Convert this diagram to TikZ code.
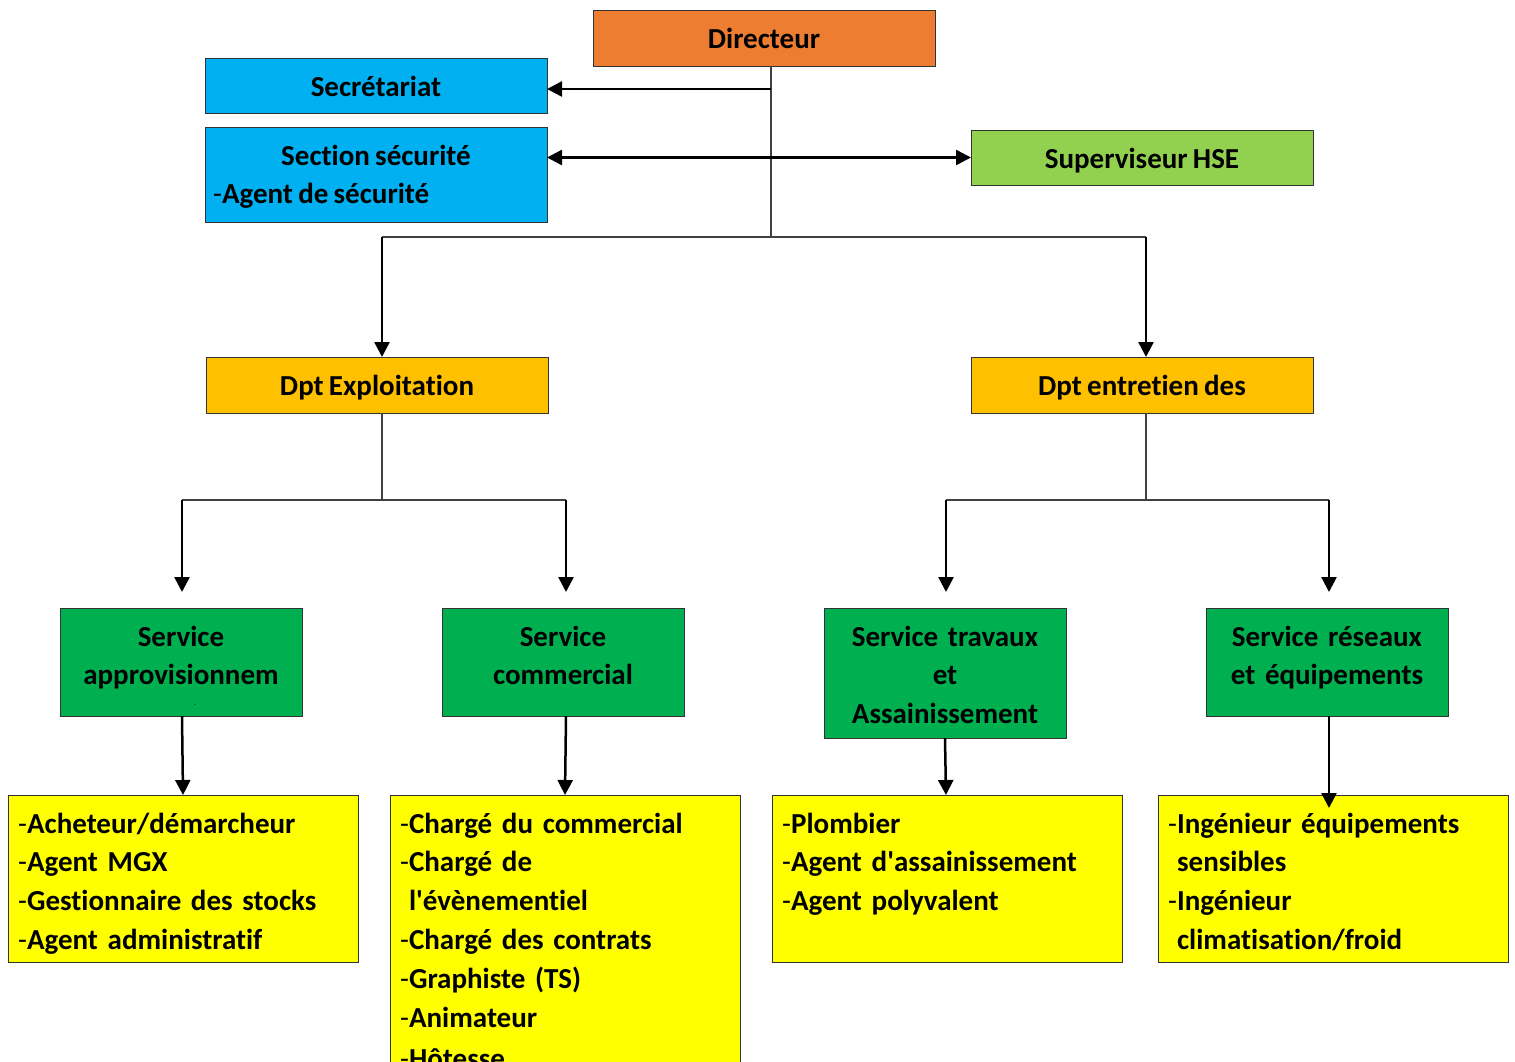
\documentclass[tikz,border=0pt]{standalone}
\usepackage{fontspec}
\setmainfont{Carlito}[RawFeature=-liga,WordSpace=0.8]
\usetikzlibrary{arrows.meta,calc}
\definecolor{cOrange}{HTML}{ED7D31}
\definecolor{cBlue}{HTML}{00B0F0}
\definecolor{cLime}{HTML}{92D050}
\definecolor{cAmber}{HTML}{FFC000}
\definecolor{cGreen}{HTML}{00B050}
\definecolor{cYellow}{HTML}{FFFF00}
\newcommand\dsh{{\mdseries-}}
\newcommand\ind{\phantom{\mdseries-}}
\begin{document}
\begin{tikzpicture}[x=1pt,y=-1pt,
  box/.style={draw=black!80,line width=1pt,inner sep=0pt,outer sep=0pt,anchor=north west},
  lbl/.style={font=\bfseries\fontsize{29}{38.8}\selectfont,inner sep=0pt,anchor=base},
  mlbl/.style={lbl,align=center},
  ylbl/.style={font=\bfseries\fontsize{29}{38.8}\selectfont,inner sep=0pt,anchor=base west,text width=340pt,align=left},
  conn/.style={line width=2.5pt,-{Triangle[length=15pt,width=15pt]}},
  biconn/.style={line width=2.5pt,{Triangle[length=15pt,width=15pt]}-{Triangle[length=15pt,width=15pt]}},
  wire/.style={line width=1.2pt,draw=black!75}]
\fill[white] (0,0) rectangle (1515,1061);
\useasboundingbox (0,0) rectangle (1515,1061);
% boxes
\node[box,fill=cOrange,minimum width=342pt,minimum height=56pt] (dir) at (593,10) {};
\node[lbl] (dirt) at (764,48) {Directeur};
\node[box,fill=cBlue,minimum width=342pt,minimum height=55pt] (sec) at (205,58) {};
\node[lbl] (sect) at (376,96) {Secrétariat};
\node[box,fill=cBlue,minimum width=342pt,minimum height=95pt] (secu) at (205,127) {};
\node[lbl] (secut) at (376,165) {Section sécurité};
\node[lbl,anchor=base west] (secua) at (213,203) {\dsh Agent de sécurité};
\node[box,fill=cLime,minimum width=342pt,minimum height=55pt] (hse) at (971,130) {};
\node[lbl] (hset) at (1142,168) {Superviseur HSE};
\node[box,fill=cAmber,minimum width=342pt,minimum height=56pt] (dexp) at (206,357) {};
\node[lbl] (dexpt) at (377,395) {Dpt Exploitation};
\node[box,fill=cAmber,minimum width=342pt,minimum height=56pt] (dent) at (971,357) {};
\node[lbl] (dentt) at (1142,395) {Dpt entretien des};
\node[box,fill=cGreen,minimum width=242pt,minimum height=108pt] (sa) at (60,608) {};
\node[mlbl,text width=240pt] (sat) at (181,646) {Service\\approvisionnem};
\node[inner sep=0pt,font=\fontsize{6}{6}\selectfont] (sadash) at (195,706) {-};
\node[box,fill=cGreen,minimum width=242pt,minimum height=108pt] (sc) at (442,608) {};
\node[mlbl,text width=240pt] (sct) at (563,646) {Service\\commercial};
\node[box,fill=cGreen,minimum width=242pt,minimum height=130pt] (st) at (824,608) {};
\node[mlbl,text width=240pt] (stt) at (945,646) {Service travaux\\et\\Assainissement};
\node[box,fill=cGreen,minimum width=242pt,minimum height=108pt] (sr) at (1206,608) {};
\node[mlbl,text width=240pt] (srt) at (1327,646) {Service réseaux\\et équipements};
\node[box,fill=cYellow,minimum width=350pt,minimum height=167pt] (y1) at (8,795) {};
\node[ylbl] (y1t) at (18,833) {\dsh Acheteur/démarcheur\\\dsh Agent MGX\\\dsh Gestionnaire des stocks\\\dsh Agent administratif};
\node[box,fill=cYellow,minimum width=350pt,minimum height=290pt] (y2) at (390,795) {};
\node[ylbl] (y2t) at (400,833) {\dsh Chargé du commercial\\\dsh Chargé de\\\ind l\textquotesingle évènementiel\\\dsh Chargé des contrats\\\dsh Graphiste (TS)\\\dsh Animateur\\[3pt]\dsh Hôtesse};
\node[box,fill=cYellow,minimum width=350pt,minimum height=167pt] (y3) at (772,795) {};
\node[ylbl] (y3t) at (782,833) {\dsh Plombier\\\dsh Agent d\textquotesingle assainissement\\\dsh Agent polyvalent};
\node[box,fill=cYellow,minimum width=350pt,minimum height=167pt] (y4) at (1158,795) {};
\node[ylbl] (y4t) at (1168,833) {\dsh Ingénieur équipements\\\ind sensibles\\\dsh Ingénieur\\\ind climatisation/froid};
% junctions
\coordinate (jtop) at (771,237);
\coordinate (jsec) at (771,89);
\coordinate (jl) at (382,237);
\coordinate (jr) at (1146,237);
\coordinate (jel) at (382,500);
\coordinate (ja) at (182,500);
\coordinate (jc) at (566,500);
\coordinate (ta) at (182,592);
\coordinate (tc) at (566,592);
\coordinate (jer) at (1146,500);
\coordinate (jt) at (946,500);
\coordinate (jrs) at (1329,500);
\coordinate (tt) at (946,592);
\coordinate (trs) at (1329,592);
\coordinate (xa) at (182,0);
\coordinate (xa2) at (183,0);
\coordinate (xc) at (566,0);
\coordinate (xc2) at (565,0);
\coordinate (xt) at (945,0);
\coordinate (xt2) at (946,0);
\coordinate (xr) at (1329,0);
\coordinate (rtip) at (1329,808);
% connectors
\draw[wire] (dir.south -| jtop) -- (jtop);
\draw[conn] (jsec) -- (sec.east |- jsec);
\draw[biconn] (secu.east |- hse.west) -- (hse.west);
\draw[wire] (jl) -- (jr);
\draw[conn] (jl) -- (jl |- dexp.north);
\draw[conn] (jr) -- (jr |- dent.north);
\draw[wire] (dexp.south -| jel) -- (jel);
\draw[wire] (ja) -- (jc);
\draw[conn] (ja) -- (ta);
\draw[conn] (jc) -- (tc);
\draw[wire] (dent.south -| jer) -- (jer);
\draw[wire] (jt) -- (jrs);
\draw[conn] (jt) -- (tt);
\draw[conn] (jrs) -- (trs);
\draw[conn] (sa.south -| xa) -- (y1.north -| xa2);
\draw[conn] (sc.south -| xc) -- (y2.north -| xc2);
\draw[conn] (st.south -| xt) -- (y3.north -| xt2);
\draw[conn] (sr.south -| xr) -- (rtip);
\end{tikzpicture}
\end{document}
